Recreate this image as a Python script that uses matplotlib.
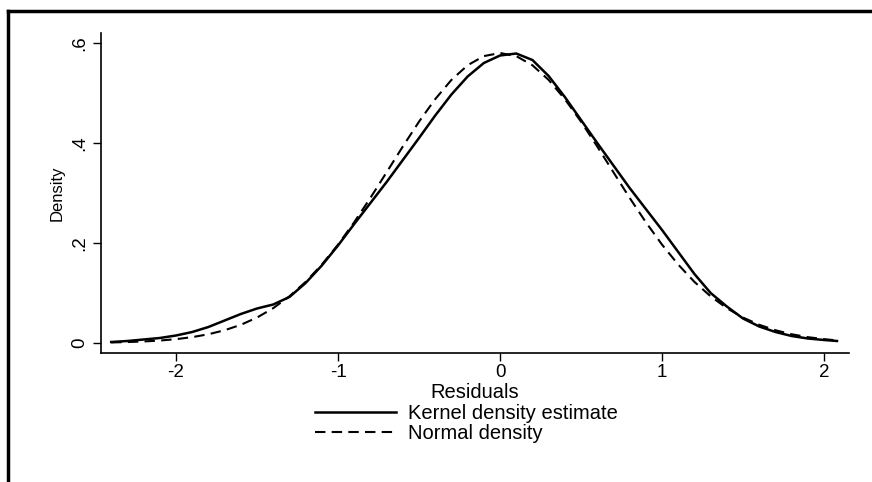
import matplotlib
matplotlib.use("Agg")
import matplotlib.pyplot as plt
from matplotlib.lines import Line2D

plt.rcParams['font.family'] = ['Liberation Sans', 'DejaVu Sans']
plt.rcParams['axes.unicode_minus'] = False

# residual grid (same for both curves)
resid = [-2.4, -2.3, -2.2, -2.1, -2.0, -1.9, -1.8, -1.7, -1.6, -1.5, -1.4, -1.3,
         -1.2, -1.1, -1.0, -0.9, -0.8, -0.7, -0.6, -0.5, -0.4, -0.3, -0.2, -0.1,
         0.0, 0.1, 0.2, 0.3, 0.4, 0.5, 0.6, 0.7, 0.8, 0.9, 1.0, 1.1, 1.2, 1.3,
         1.4, 1.5, 1.6, 1.7, 1.8, 1.9, 2.0, 2.08]

# kernel density estimate (solid)
kde = [0.002, 0.004, 0.007, 0.010, 0.015, 0.022, 0.032, 0.045, 0.058, 0.069, 0.077, 0.092,
       0.120, 0.155, 0.195, 0.238, 0.280, 0.322, 0.366, 0.410, 0.455, 0.497, 0.533, 0.560,
       0.575, 0.579, 0.566, 0.534, 0.492, 0.446, 0.400, 0.355, 0.310, 0.268, 0.226, 0.182, 0.138, 0.100,
       0.073, 0.049, 0.033, 0.022, 0.014, 0.009, 0.006, 0.004]

# normal density (dashed)
normal = [0.0011, 0.0019, 0.0031, 0.0049, 0.0077, 0.0117, 0.0175, 0.0255, 0.0364, 0.0509, 0.0697, 0.0933,
          0.1222, 0.1568, 0.1967, 0.2416, 0.2903, 0.3415, 0.3930, 0.4427, 0.4878, 0.5262, 0.5555, 0.5738,
          0.5800, 0.5738, 0.5555, 0.5262, 0.4878, 0.4427, 0.3930, 0.3415, 0.2903, 0.2416, 0.1967, 0.1568, 0.1222, 0.0933,
          0.0697, 0.0509, 0.0364, 0.0255, 0.0175, 0.0117, 0.0077, 0.0052]

xticks = [-2, -1, 0, 1, 2]
yticks = [0, 0.2, 0.4, 0.6]
yticklabels = ["0", ".2", ".4", ".6"]

W, H = 872, 482
fig = plt.figure(figsize=(W / 100, H / 100), dpi=100)
ax = fig.add_axes([101 / W, (H - 353) / H, (849 - 101) / W, (353 - 33) / H])

ax.plot(resid, kde, color="black", lw=1.8, label="Kernel density estimate")
ax.plot(resid, normal, color="black", lw=1.5, linestyle=(0, (5, 3)), label="Normal density")

ax.set_xlim(-2.463, 2.154)
ax.set_ylim(-0.02, 0.62)
ax.set_xticks(xticks)
ax.set_yticks(yticks)
ax.set_yticklabels(yticklabels, rotation=90, va="center")
ax.tick_params(direction="out", length=6, width=1, labelsize=13.5, pad=3)
ax.tick_params(axis="x", pad=2)
for s in ["top", "right"]:
    ax.spines[s].set_visible(False)
for s in ["left", "bottom"]:
    ax.spines[s].set_linewidth(1.2)

ax.set_xlabel("Residuals", fontsize=14.5, labelpad=1)
ax.set_ylabel("Density", fontsize=12, labelpad=5)

fig.legend(loc="upper left", bbox_to_anchor=(315 / W, (H - 404) / H), frameon=False,
           fontsize=14.5, handlelength=4.0, handletextpad=0.6, labelspacing=0.05, borderpad=0,
           borderaxespad=0)

# outer frame (top and left edges visible in the scan)
fig.add_artist(Line2D([8 / W, 8 / W], [0, (H - 11) / H], color="black", lw=2.5))
fig.add_artist(Line2D([8 / W, 1], [(H - 11) / H, (H - 11) / H], color="black", lw=2.5))

fig.savefig("out.png", dpi=100)
